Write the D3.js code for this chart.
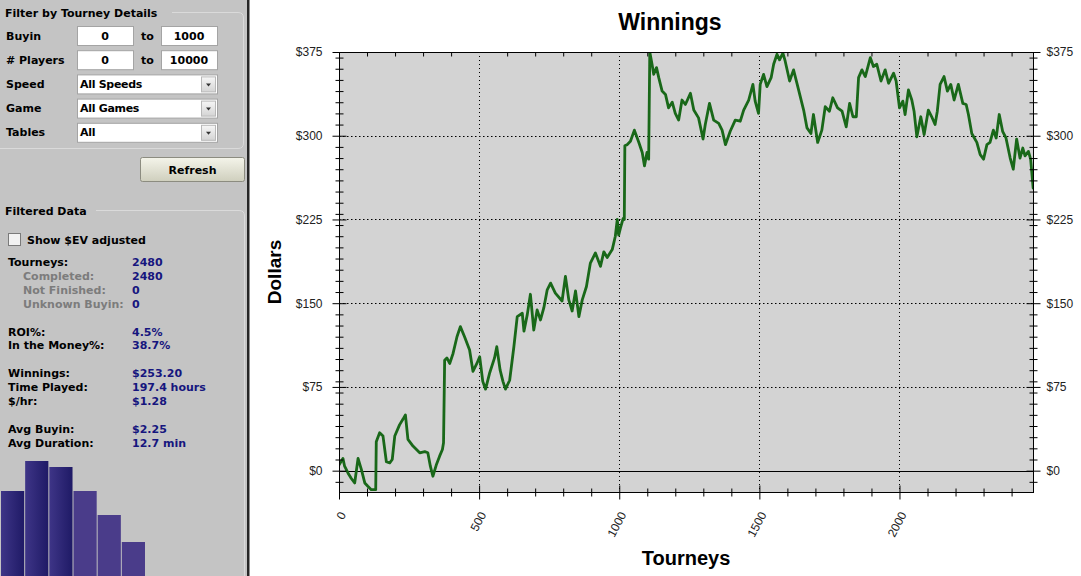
<!DOCTYPE html>
<html lang="en">
<head>
<meta charset="UTF-8">
<title>Winnings</title>
<style>
  body { margin: 0; background: #fff; }
  .panel text { font-family: "DejaVu Sans", sans-serif; font-size: 11px; font-weight: bold; }
  .chart text { font-family: "Liberation Sans", Arial, sans-serif; }
</style>
</head>
<body>
<script src="https://cdn.jsdelivr.net/npm/d3@7/dist/d3.min.js"></script>
<script>
// winnings curve (tourney number, cumulative $)
var tourneys = [0, 14, 20, 32, 44, 56, 68, 80, 92, 103, 115, 131, 133, 145, 157, 169, 181, 190, 199, 216,
  228, 237, 246, 264, 288, 306, 317, 326, 335, 347, 359, 369, 373, 377, 385, 395, 407, 421, 433, 448,
  466, 478, 492, 502, 513, 523, 537, 555, 563, 575, 585, 594, 609, 624, 636, 654, 660, 672, 683, 695,
  707, 719, 731, 743, 755, 772, 796, 808, 820, 832, 844, 856, 868, 883, 897, 915, 933, 945, 957, 975,
  986, 993, 998, 1004, 1014, 1018, 1020, 1028, 1040, 1054, 1070, 1082, 1090, 1099, 1105, 1109, 1117, 1123, 1133, 1141,
  1153, 1165, 1176, 1189, 1200, 1212, 1224, 1236, 1254, 1266, 1283, 1299, 1307, 1322, 1337, 1355, 1367, 1379, 1396, 1414,
  1432, 1444, 1462, 1477, 1485, 1497, 1503, 1515, 1527, 1542, 1551, 1563, 1572, 1584, 1592, 1608, 1622, 1640, 1658, 1670,
  1684, 1693, 1708, 1723, 1735, 1750, 1762, 1779, 1795, 1810, 1822, 1834, 1846, 1854, 1866, 1878, 1896, 1907, 1919, 1934,
  1949, 1961, 1979, 1988, 2000, 2012, 2020, 2032, 2044, 2052, 2062, 2076, 2088, 2103, 2115, 2127, 2135, 2145, 2159, 2171,
  2183, 2195, 2210, 2226, 2238, 2246, 2258, 2276, 2288, 2300, 2312, 2323, 2335, 2345, 2356, 2368, 2380, 2395, 2406, 2418,
  2430, 2440, 2448, 2460, 2468, 2477, 2480];
var winnings = [5, 11, 4, -2, -7, -11, 11, 1, -11, -14, -17, -17, 26, 34, 31, 8, 7, 10, 31, 41,
  46, 50, 28, 22, 16, 17, 16, 4, -5, 5, 13, 19, 25, 99, 101, 96, 105, 120, 129, 120,
  108, 89, 96, 102, 80, 73, 87, 101, 111, 90, 80, 73, 81, 111, 138, 141, 125, 140, 158, 126,
  144, 135, 146, 162, 168, 159, 152, 174, 153, 143, 161, 138, 153, 165, 186, 195, 183, 196, 191, 198,
  210, 225, 211, 217, 226, 225, 291, 292, 295, 305, 294, 285, 273, 285, 279, 375, 364, 355, 361, 352,
  340, 337, 325, 330, 320, 314, 332, 328, 338, 323, 316, 297, 310, 329, 314, 311, 305, 292, 304, 314,
  313, 323, 332, 346, 331, 320, 346, 355, 344, 352, 364, 373, 368, 374, 367, 349, 359, 341, 323, 307,
  302, 319, 294, 305, 326, 322, 334, 325, 322, 308, 329, 317, 317, 352, 359, 353, 370, 362, 364, 349,
  359, 347, 356, 349, 325, 331, 319, 341, 332, 322, 299, 317, 301, 323, 317, 310, 322, 346, 353, 340,
  346, 332, 346, 329, 328, 319, 302, 294, 283, 279, 292, 294, 305, 298, 319, 304, 298, 280, 270, 297,
  280, 289, 282, 286, 279, 253, 253.2];

var xMajor = [0, 500, 1000, 1500, 2000];
var yMajor = [0, 75, 150, 225, 300, 375];

// left panel contents
var filterLabels = ['Buyin', '# Players', 'Speed', 'Game', 'Tables'];
var rangeFrom = ['0', '0'];
var rangeTo = ['1000', '10000'];
var selectValues = ['All Speeds', 'All Games', 'All'];
var statLabels = ['Tourneys:', 'Completed:', 'Not Finished:', 'Unknown Buyin:', 'ROI%:', 'In the Money%:',
  'Winnings:', 'Time Played:', '$/hr:', 'Avg Buyin:', 'Avg Duration:'];
var statValues = ['2480', '2480', '0', '0', '4.5%', '38.7%', '$253.20', '197.4 hours', '$1.28', '$2.25', '12.7 min'];
var statRows = [0, 1, 2, 3, 5, 6, 8, 9, 10, 12, 13];
var histValues = [85, 115, 109, 85, 61, 34];

var width = 1081, height = 576;
var svg = d3.select('body').append('svg')
  .attr('width', width)
  .attr('height', height);

var defs = svg.append('defs');
var g1 = defs.append('linearGradient').attr('id', 'barDark');
g1.append('stop').attr('offset', '0%').attr('stop-color', '#3e3587');
g1.append('stop').attr('offset', '100%').attr('stop-color', '#1f1a66');
var g2 = defs.append('linearGradient').attr('id', 'btn').attr('x1', 0).attr('x2', 0).attr('y1', 0).attr('y2', 1);
g2.append('stop').attr('offset', '0%').attr('stop-color', '#f4f4ea');
g2.append('stop').attr('offset', '100%').attr('stop-color', '#cfcfbd');
var g3 = defs.append('linearGradient').attr('id', 'drop').attr('x1', 0).attr('x2', 0).attr('y1', 0).attr('y2', 1);
g3.append('stop').attr('offset', '0%').attr('stop-color', '#f6f6f6');
g3.append('stop').attr('offset', '100%').attr('stop-color', '#d4d4d4');

// ---------- left panel ----------
var panel = svg.append('g').attr('class', 'panel');
panel.append('rect').attr('width', 247).attr('height', height).attr('fill', '#c4c4c4');
panel.append('rect').attr('x', 247).attr('width', 2.5).attr('height', height).attr('fill', '#262626');

// group box outlines
panel.append('path')
  .attr('d', 'M172,12.5 H238 Q243.5,12.5 243.5,18 V143 Q243.5,148.5 238,148.5 H0')
  .attr('fill', 'none').attr('stroke', '#dadada');
panel.append('path')
  .attr('d', 'M96,210.5 H239 Q244.5,210.5 244.5,216 V' + height)
  .attr('fill', 'none').attr('stroke', '#dadada');

panel.append('text').attr('x', 5).attr('y', 16.5).text('Filter by Tourney Details');

var rowY = function(i) { return 26 + i * 24.2; };
panel.selectAll('.flabel')
  .data(filterLabels)
  .enter()
  .append('text')
  .attr('x', 6)
  .attr('y', function(d, i) { return rowY(i) + 13.5; })
  .text(function(d) { return d; });

// range inputs
rangeFrom.forEach(function(v, i) {
  var y = rowY(i);
  [[77, v], [161, rangeTo[i]]].forEach(function(b) {
    panel.append('rect').attr('x', b[0] + 0.5).attr('y', y + 0.5).attr('width', 56).attr('height', 19)
      .attr('fill', '#fff').attr('stroke', '#a4a4a4');
    panel.append('text').attr('x', b[0] + 28).attr('y', y + 13.5).attr('text-anchor', 'middle').text(b[1]);
  });
  panel.append('text').attr('x', 141).attr('y', y + 13.5).text('to');
});

// drop downs
selectValues.forEach(function(v, i) {
  var y = rowY(i + 2);
  panel.append('rect').attr('x', 77.5).attr('y', y + 0.5).attr('width', 140).attr('height', 19)
    .attr('fill', '#fff').attr('stroke', '#a4a4a4');
  panel.append('text').attr('x', 80).attr('y', y + 13.5).attr('letter-spacing', -0.3).text(v);
  panel.append('rect').attr('x', 201.5).attr('y', y + 2.5).attr('width', 14).attr('height', 15)
    .attr('fill', 'url(#drop)').attr('stroke', '#b8b8b8');
  panel.append('path').attr('d', 'M206,' + (y + 9) + ' h5 l-2.5,3 z').attr('fill', '#333');
});

// refresh button
panel.append('rect').attr('x', 140.5).attr('y', 157.5).attr('width', 104).attr('height', 24).attr('rx', 2)
  .attr('fill', 'url(#btn)').attr('stroke', '#8c8c80');
panel.append('text').attr('x', 192.5).attr('y', 173.5).attr('text-anchor', 'middle').text('Refresh');

panel.append('text').attr('x', 5).attr('y', 215).text('Filtered Data');
panel.append('rect').attr('x', 8.5).attr('y', 233.5).attr('width', 12).attr('height', 12)
  .attr('fill', '#f2f2f2').attr('stroke', '#7a7a7a');
panel.append('text').attr('x', 27).attr('y', 243.5).text('Show $EV adjusted');

// stats
var statY = function(i) { return 266 + statRows[i] * 13.9; };
panel.selectAll('.slabel')
  .data(statLabels)
  .enter()
  .append('text')
  .attr('x', function(d, i) { return (i >= 1 && i <= 3) ? 23 : 8; })
  .attr('y', function(d, i) { return statY(i); })
  .attr('fill', function(d, i) { return (i >= 1 && i <= 3) ? '#7c7c7c' : '#000'; })
  .text(function(d) { return d; });
panel.selectAll('.svalue')
  .data(statValues)
  .enter()
  .append('text')
  .attr('x', 132)
  .attr('y', function(d, i) { return statY(i); })
  .attr('fill', '#16167e')
  .text(function(d) { return d; });

// small histogram at the bottom
var hx = d3.scaleBand().domain(d3.range(histValues.length)).range([1, 145]).paddingInner(0.04);
var hy = d3.scaleLinear().domain([0, 115]).range([height, 461]);
panel.selectAll('.bar')
  .data(histValues)
  .enter()
  .append('rect')
  .attr('x', function(d, i) { return hx(i); })
  .attr('width', hx.bandwidth())
  .attr('y', function(d) { return hy(d); })
  .attr('height', function(d) { return height - hy(d); })
  .attr('fill', function(d, i) { return i < 3 ? 'url(#barDark)' : '#4a3c8a'; });

// ---------- chart ----------
var chart = svg.append('g').attr('class', 'chart');
var pLeft = 339, pRight = 1034, pTop = 52, pBottom = 493;
var x = d3.scaleLinear().domain([0, 2480]).range([pLeft, pRight]);
var y = d3.scaleLinear().domain([-20, 375]).range([pBottom, pTop]);

chart.append('rect').attr('x', pLeft).attr('y', pTop).attr('width', pRight - pLeft).attr('height', pBottom - pTop)
  .attr('fill', '#d3d3d3');

// dotted grid
chart.append('g')
  .selectAll('line')
  .data(yMajor.filter(function(d) { return d > 0; }))
  .enter()
  .append('line')
  .attr('x1', pLeft).attr('x2', pRight)
  .attr('y1', function(d) { return Math.round(y(d)) + 0.5; }).attr('y2', function(d) { return Math.round(y(d)) + 0.5; })
  .attr('stroke', '#000').attr('stroke-dasharray', '1.5,2.5');
chart.append('g')
  .selectAll('line')
  .data(xMajor.filter(function(d) { return d > 0; }))
  .enter()
  .append('line')
  .attr('y1', pTop).attr('y2', pBottom)
  .attr('x1', function(d) { return Math.round(x(d)) + 0.5; }).attr('x2', function(d) { return Math.round(x(d)) + 0.5; })
  .attr('stroke', '#000').attr('stroke-dasharray', '1,3');
// zero line
chart.append('line').attr('x1', pLeft).attr('x2', pRight).attr('y1', Math.round(y(0)) + 0.5).attr('y2', Math.round(y(0)) + 0.5)
  .attr('stroke', '#000');

// winnings line
chart.append('clipPath').attr('id', 'plotClip')
  .append('rect').attr('x', pLeft).attr('y', pTop).attr('width', pRight - pLeft).attr('height', pBottom - pTop);
var line = d3.line()
  .x(function(d, i) { return x(tourneys[i]); })
  .y(function(d) { return y(d); });
chart.append('path')
  .datum(winnings)
  .attr('clip-path', 'url(#plotClip)')
  .attr('d', line)
  .attr('fill', 'none')
  .attr('stroke', '#196819')
  .attr('stroke-width', 2.8)
  .attr('stroke-linejoin', 'round');

// frame
chart.append('rect').attr('x', pLeft + 0.5).attr('y', pTop + 0.5).attr('width', pRight - pLeft - 1).attr('height', pBottom - pTop - 1)
  .attr('fill', 'none').attr('stroke', '#000');

var xMinor = d3.range(100, 2480, 100).filter(function(d) { return xMajor.indexOf(d) < 0; });
var yMinor = d3.range(-10, 375, 10).filter(function(d) { return yMajor.indexOf(d) < 0; });
var fmt = function(d) { return '$' + d; };

// y axes, ticks cross the axis line
function yAxis(axisFn, xPos, sign) {
  var gm = chart.append('g').attr('transform', 'translate(' + (xPos + 0.5) + ',0)')
    .call(axisFn(y).tickValues(yMinor).tickFormat('').tickSize(0));
  gm.selectAll('.tick line').attr('x1', -4 * sign).attr('x2', 4 * sign).attr('stroke', '#000');
  var ga = chart.append('g').attr('transform', 'translate(' + (xPos + 0.5) + ',0)')
    .call(axisFn(y).tickValues(yMajor).tickFormat(fmt).tickSize(0).tickPadding(sign > 0 ? 13 : 17));
  ga.selectAll('.tick line').attr('x1', -7 * sign).attr('x2', 7 * sign).attr('stroke', '#000');
  [gm, ga].forEach(function(g) { g.select('.domain').remove(); });
  ga.selectAll('text').attr('font-size', 12).attr('fill', '#222').style('font-family', '"Liberation Sans", Arial, sans-serif');
}
yAxis(d3.axisLeft, pLeft, -1);
yAxis(d3.axisRight, pRight - 1, 1);

// bottom axis
var bm = chart.append('g').attr('transform', 'translate(0,' + (pBottom - 0.5) + ')')
  .call(d3.axisBottom(x).tickValues(xMinor).tickFormat('').tickSize(0));
bm.selectAll('.tick line').attr('y1', -4).attr('y2', 4).attr('stroke', '#000');
var ba = chart.append('g').attr('transform', 'translate(0,' + (pBottom - 0.5) + ')')
  .call(d3.axisBottom(x).tickValues(xMajor).tickFormat(d3.format('d')).tickSize(0));
ba.selectAll('.tick line').attr('y1', -7).attr('y2', 7).attr('stroke', '#000');
ba.selectAll('text')
  .attr('y', 0).attr('dy', 0)
  .attr('text-anchor', 'end')
  .attr('transform', 'translate(7,22) rotate(-62)')
  .attr('font-size', 12).attr('fill', '#222')
  .style('font-family', '"Liberation Sans", Arial, sans-serif');
// top axis, inward ticks only
var tm = chart.append('g').attr('transform', 'translate(0,' + (pTop + 0.5) + ')')
  .call(d3.axisTop(x).tickValues(xMinor).tickFormat('').tickSize(-4));
[bm, ba, tm].forEach(function(g) { g.select('.domain').remove(); });

// titles
chart.append('text').attr('x', 670).attr('y', 30).attr('text-anchor', 'middle')
  .attr('font-size', 23).attr('font-weight', 'bold').text('Winnings');
chart.append('text').attr('x', 686).attr('y', 565).attr('text-anchor', 'middle')
  .attr('font-size', 20).attr('font-weight', 'bold').text('Tourneys');
chart.append('text').attr('transform', 'translate(281,272) rotate(-90)').attr('text-anchor', 'middle')
  .attr('font-size', 19).attr('font-weight', 'bold').text('Dollars');
</script>
</body>
</html>
